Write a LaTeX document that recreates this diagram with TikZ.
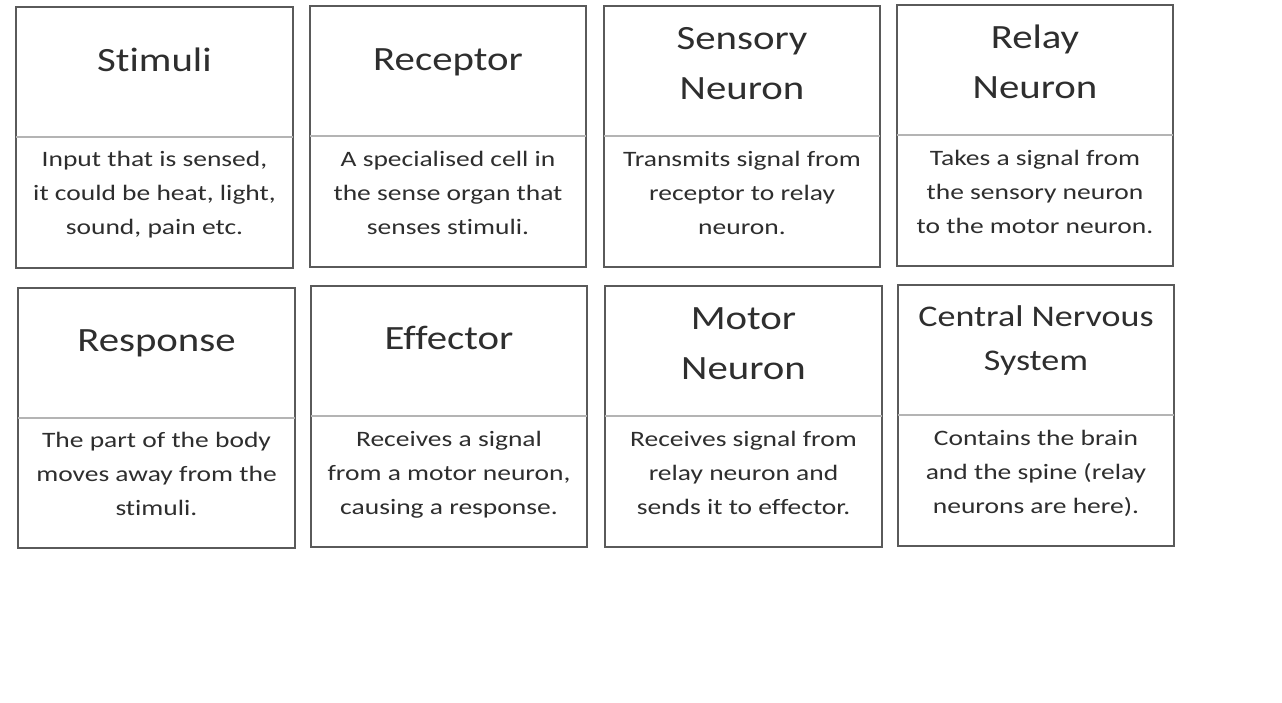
\documentclass[tikz,border=0pt]{standalone}
\usepackage{fontspec}
\setmainfont{Carlito}[Ligatures={NoCommon}]
\definecolor{frame}{HTML}{5A5A5A}
\definecolor{divider}{HTML}{B4B4B4}
\definecolor{ink}{HTML}{2E2E2E}
\begin{document}
\begin{tikzpicture}[x=1pt,y=-1pt,
  cardbox/.style={draw=frame,line width=2pt},
  divline/.style={draw=divider,line width=1.5pt},
  titletext/.style={anchor=base,align=center,text=ink,inner sep=0pt,transform shape,xscale=1.2,
    font=\fontsize{34}{50}\selectfont},
  smalltitle/.style={titletext,font=\fontsize{30}{44}\selectfont},
  bodytext/.style={anchor=base,align=center,text=ink,inner sep=0pt,transform shape,xscale=1.25,
    font=\fontsize{22}{34}\selectfont}]
\useasboundingbox (0,0) rectangle (1282,702);
\fill[white] (0,0) rectangle (1282,702);
% row 1
\draw[cardbox] (16,7) rectangle (293,268);
\draw[divline] (16,137) -- (293,137);
\node[titletext] (t1) at (154.5,71) {Stimuli};
\node[bodytext] (b1) at (154.5,234) {Input that is sensed,\\it could be heat, light,\\sound, pain etc.};
\draw[cardbox] (310,6) rectangle (586,267);
\draw[divline] (310,136) -- (586,136);
\node[titletext] (t2) at (448,70) {Receptor};
\node[bodytext] (b2) at (448,234) {A specialised cell in\\the sense organ that\\senses stimuli.};
\draw[cardbox] (604,6) rectangle (880,267);
\draw[divline] (604,136) -- (880,136);
\node[titletext] (t3) at (742,99) {Sensory\\Neuron};
\node[bodytext] (b3) at (742,234) {Transmits signal from\\receptor to relay\\neuron.};
\draw[cardbox] (897,5) rectangle (1173,266);
\draw[divline] (897,135) -- (1173,135);
\node[titletext] (t4) at (1035,98) {Relay\\Neuron};
\node[bodytext] (b4) at (1035,233) {Takes a signal from\\the sensory neuron\\to the motor neuron.};
% row 2
\draw[cardbox] (18,288) rectangle (295,548);
\draw[divline] (18,418) -- (295,418);
\node[titletext] (t5) at (156.5,351) {Response};
\node[bodytext] (b5) at (156.5,515) {The part of the body\\moves away from the\\stimuli.};
\draw[cardbox] (311,286) rectangle (587,547);
\draw[divline] (311,416) -- (587,416);
\node[titletext] (t6) at (449,349) {Effector};
\node[bodytext] (b6) at (449,514) {Receives a signal\\from a motor neuron,\\causing a response.};
\draw[cardbox] (605,286) rectangle (882,547);
\draw[divline] (605,416) -- (882,416);
\node[titletext] (t7) at (743.5,379) {Motor\\Neuron};
\node[bodytext] (b7) at (743.5,514) {Receives signal from\\relay neuron and\\sends it to effector.};
\draw[cardbox] (898,285) rectangle (1174,546);
\draw[divline] (898,415) -- (1174,415);
\node[smalltitle] (t8) at (1036,370) {Central Nervous\\System};
\node[bodytext] (b8) at (1036,513) {Contains the brain\\and the spine (relay\\neurons are here).};
\end{tikzpicture}
\end{document}
